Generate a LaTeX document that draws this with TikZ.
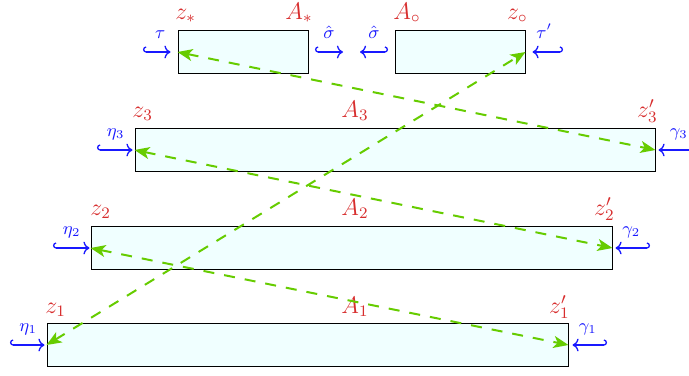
\documentclass[tikz,border=0pt]{standalone}
\usetikzlibrary{arrows.meta}
\definecolor{lblred}{RGB}{215,45,45}
\definecolor{dgreen}{RGB}{102,204,0}
\definecolor{boxfill}{RGB}{240,255,255}
\definecolor{hblue}{RGB}{25,25,255}
\begin{document}
\begin{tikzpicture}[x=0.5pt,y=-0.5pt,
  box/.style={draw=black, line width=0.5pt, fill=boxfill, minimum height=21.5pt, inner sep=0pt},
  rl/.style={text=lblred, font=\large, inner sep=0pt},
  hkr/.style={draw=hblue, line width=0.65pt, {Hooks[right]}-{To}},
  hkl/.style={draw=hblue, line width=0.65pt, {Hooks[left]}-{To}},
  bl/.style={midway, anchor=base, yshift=7pt, text=hblue, font=\small, inner sep=0pt},
  garrow/.style={draw=dgreen, line width=1pt, dash pattern=on 5.5pt off 5pt,
    {Stealth[length=7.5pt,width=6pt,inset=2pt]}-{Stealth[length=7.5pt,width=6pt,inset=2pt]}}
]
\useasboundingbox (0,0) rectangle (689,375);

% boxes
\node[box, minimum width=65pt]  (As) at (243,52) {};
\node[box, minimum width=65pt]  (Ao) at (460,52) {};
\node[box, minimum width=260pt] (B3) at (395,150) {};
\node[box, minimum width=260.5pt] (B2) at (351.5,248) {};
\node[box, minimum width=260.5pt] (B1) at (307.5,345) {};

% red labels
\node[rl, anchor=base west] (lzs) at (175,19) {$z_*$};
\node[rl, anchor=base east] (lAs) at (313,19) {$A_*$};
\node[rl, anchor=base west] (lAo) at (393,19) {$A_\circ$};
\node[rl, anchor=base east] (lzo) at (528,19) {$z_\circ$};
\node[rl, anchor=base west] (lz3) at (132,117) {$z_3$};
\node[rl, anchor=base]      (lA3) at (355,117) {$A_3$};
\node[rl, anchor=base east] (lz3p) at (658,117) {$z_3'$};
\node[rl, anchor=base west] (lz2) at (90,215) {$z_2$};
\node[rl, anchor=base]      (lA2) at (355,215) {$A_2$};
\node[rl, anchor=base east] (lz2p) at (615,215) {$z_2'$};
\node[rl, anchor=base west] (lz1) at (45,313) {$z_1$};
\node[rl, anchor=base]      (lA1) at (355,313) {$A_1$};
\node[rl, anchor=base east] (lz1p) at (570,313) {$z_1'$};

% free ends of hooked arrows
\coordinate (tauT) at (143,52);
\coordinate (s1T) at (315,52);
\coordinate (s1H) at (343,52);
\coordinate (s2T) at (388,52);
\coordinate (s2H) at (360,52);
\coordinate (taupT) at (563,52);
\coordinate (e3T) at (97,150);
\coordinate (g3T) at (702,150);
\coordinate (e2T) at (53,248);
\coordinate (g2T) at (650,248);
\coordinate (e1T) at (10,345);
\coordinate (g1T) at (607,345);

% hooked arrows
\draw[hkr, shorten >=3.5pt] (tauT) -- node[bl] {$\tau$} (As.west);
\draw[hkr] (s1T) -- node[bl] {$\hat\sigma$} (s1H);
\draw[hkl] (s2T) -- node[bl] {$\hat\sigma$} (s2H);
\draw[hkl, shorten >=3.5pt] (taupT) -- node[bl] {$\tau'$} (Ao.east);
\draw[hkr, shorten >=1pt] (e3T) -- node[bl] {$\eta_3$} (B3.west);
\draw[hkl, shorten >=1.5pt] (g3T) -- node[bl] {$\gamma_3$} (B3.east);
\draw[hkr, shorten >=0.5pt] (e2T) -- node[bl] {$\eta_2$} (B2.west);
\draw[hkl, shorten >=1.5pt] (g2T) -- node[bl] {$\gamma_2$} (B2.east);
\draw[hkr, shorten >=1pt] (e1T) -- node[bl] {$\eta_1$} (B1.west);
\draw[hkl, shorten >=2pt] (g1T) -- node[bl] {$\gamma_1$} (B1.east);

% green dashed double arrows
\draw[garrow] (B1.west) -- (Ao.east);
\draw[garrow] (As.west) -- (B3.east);
\draw[garrow] (B3.west) -- (B2.east);
\draw[garrow] (B2.west) -- (B1.east);
\end{tikzpicture}
\end{document}
